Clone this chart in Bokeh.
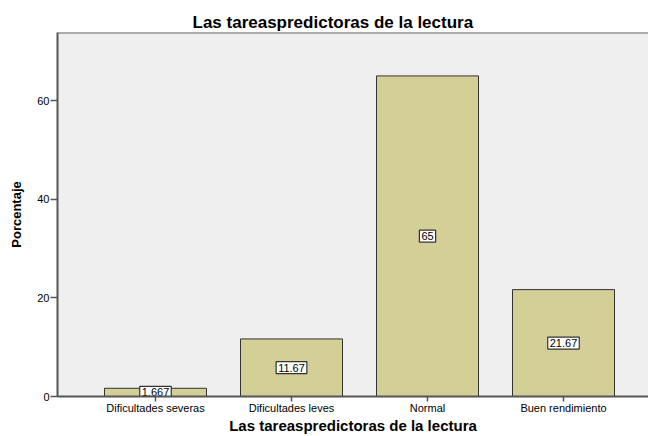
from bokeh.plotting import figure
from bokeh.models import ColumnDataSource, FixedTicker, Range1d, Span
from bokeh.core.properties import value
from bokeh.embed import file_html
from bokeh.resources import INLINE

categories = ["Dificultades severas", "Dificultades leves", "Normal", "Buen rendimiento"]
percentages = [1.667, 11.67, 65.0, 21.67]
value_labels = ["1.667", "11.67", "65", "21.67"]
y_ticks = [0, 20, 40, 60]

positions = list(range(1, len(categories) + 1))
src = ColumnDataSource(dict(
    x=positions,
    top=percentages,
    mid=[v / 2 for v in percentages],
    lab=value_labels,
))

FONT = "Liberation Sans"
Y_MAX = 73.8

p = figure(width=648, height=436, output_backend="svg", toolbar_location=None,
           x_range=Range1d(0.2794, 4.625), y_range=Range1d(0, Y_MAX),
           min_border_left=57, min_border_right=0, min_border_top=32, min_border_bottom=40,
           title="Las tareaspredictoras de la lectura")

p.background_fill_color = "#efefef"
p.border_fill_color = "white"
p.outline_line_color = None
p.grid.visible = False

p.title.text_font = FONT
p.title.text_font_style = "bold"
p.title.text_font_size = "17px"
p.title.align = "left"
p.title.offset = 135
p.title.standoff = 2
p.title.text_color = "black"

# top frame border (no right border visible in reference)
p.add_layout(Span(location=Y_MAX, dimension="width", line_color="#666666", line_width=2))

p.vbar(x="x", top="top", width=0.75, source=src,
       fill_color="#d4ce97", line_color="#333333", line_width=1)

p.text(x="x", y="mid", text="lab", source=src,
       text_align="center", text_baseline="middle",
       text_font=value(FONT), text_font_size="11px", text_color="black",
       background_fill_color="white", border_line_color="#333333",
       border_line_width=1.2, padding=2)

p.xaxis.ticker = FixedTicker(ticks=positions)
p.xaxis.major_label_overrides = {pos: c for pos, c in zip(positions, categories)}
p.xaxis.axis_label = "Las tareaspredictoras de la lectura"
p.yaxis.ticker = FixedTicker(ticks=y_ticks)
p.yaxis.axis_label = "Porcentaje"

for ax in (p.xaxis[0], p.yaxis[0]):
    ax.axis_line_color = "#555555"
    ax.axis_line_width = 2
    ax.major_tick_line_color = "#555555"
    ax.major_tick_line_width = 1.5
    ax.major_tick_in = 0
    ax.minor_tick_line_color = None
    ax.major_label_text_font = FONT
    ax.major_label_text_font_size = "11px"
    ax.major_label_text_color = "black"
    ax.axis_label_text_font = FONT
    ax.axis_label_text_font_style = "bold"
    ax.axis_label_text_color = "black"

p.xaxis.major_tick_out = 5
p.yaxis.major_tick_out = 7
p.xaxis.axis_label_text_font_size = "15px"
p.yaxis.axis_label_text_font_size = "13px"
p.xaxis.major_label_standoff = 0
p.xaxis.axis_label_standoff = 0
p.yaxis.major_label_standoff = 1
p.yaxis.axis_label_standoff = 10

open("out.html", "w").write(file_html(p, INLINE))
